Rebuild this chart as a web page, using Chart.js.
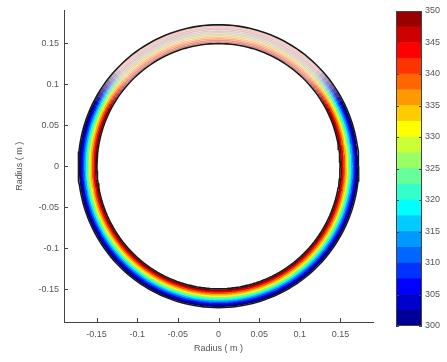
<!DOCTYPE html>
<html>
<head>
<meta charset="utf-8">
<script src="https://cdn.jsdelivr.net/npm/chart.js@4/dist/chart.umd.min.js"></script>
<style>
  body { margin: 0; background: #fff; }
  #wrap { position: relative; width: 447px; height: 362px; }
  #main { position: absolute; left: 0; top: 0; }
  #cbar { position: absolute; left: 380px; top: 0; }
</style>
</head>
<body>
<div id="wrap">
  <canvas id="main" width="447" height="362"></canvas>
  <canvas id="cbar" width="67" height="362"></canvas>
</div>
<script>
// axis ticks
var xTicks = [-0.15, -0.1, -0.05, 0, 0.05, 0.1, 0.15];
var yTicks = [-0.15, -0.1, -0.05, 0, 0.05, 0.1, 0.15];

// contour levels (K) and the radius (m) each one sits at
var contourLevels = [300, 305, 310, 315, 320, 325, 330, 335, 340, 345, 350];
var contourRadii = [0.1705, 0.1686, 0.1667, 0.1648, 0.1629, 0.1610, 0.1591, 0.1572, 0.1553, 0.1534, 0.1515];

// outer and inner wall of the ring
var wallRadii = [0.1725, 0.1495];

// colorbar
var cbarTicks = [300, 305, 310, 315, 320, 325, 330, 335, 340, 345, 350];
var cbarBandsLow = [300, 302.5, 305, 307.5, 310, 312.5, 315, 317.5, 320, 322.5,
                    325, 327.5, 330, 332.5, 335, 337.5, 340, 342.5, 345, 347.5];
var cbarMin = 300, cbarMax = 350;

var FONT = { family: "'Liberation Sans', Arial, sans-serif", size: 9 };
var TXT = '#555';
var PALE = [250, 208, 192];

function jet(t) {
    var c = function (x) { return Math.round(255 * Math.max(0, Math.min(1, 1.5 - Math.abs(x)))); };
    return [c(4 * t - 3), c(4 * t - 2), c(4 * t - 1)];
}
function rgb(a) { return 'rgb(' + a[0] + ',' + a[1] + ',' + a[2] + ')'; }

// circle through the x/y scales
function circle(r) {
    var pts = [];
    var n = 180;
    for (var k = 0; k <= n; k++) {
        var th = 2 * Math.PI * k / n;
        pts.push({ x: r * Math.cos(th), y: r * Math.sin(th) });
    }
    return pts;
}

// the top of the ring looks washed out in the original
function fade(r, segCtx) {
    var h = (segCtx.p0.parsed.y + segCtx.p1.parsed.y) / 2 / r;
    return h > 0.45 ? Math.min(1, (h - 0.45) / 0.25) : 0;
}

var datasets = [];
wallRadii.forEach(function (r) {
    datasets.push({
        data: circle(r),
        borderColor: '#1a1a1a',
        borderWidth: 1.6,
        showLine: true,
        pointRadius: 0
    });
});
contourLevels.forEach(function (lv, i) {
    var t = (lv - cbarMin) / (cbarMax - cbarMin);
    var c = jet(t);
    var r = contourRadii[i];
    datasets.push({
        data: circle(r),
        borderColor: rgb(c),
        borderWidth: 2.3,
        showLine: true,
        pointRadius: 0,
        segment: {
            borderColor: function (ctx) {
                var f = fade(r, ctx) * (0.97 - 0.3 * t);
                return rgb(c.map(function (v, k) { return Math.round(v + (PALE[k] - v) * f); }));
            },
            borderWidth: function (ctx) { return 2.3 - 0.8 * fade(r, ctx); }
        }
    });
});

var innerTicks = {
    id: 'innerTicks',
    afterDraw: function (chart) {
        var ctx = chart.ctx, a = chart.chartArea;
        ctx.save();
        ctx.strokeStyle = '#444';
        ctx.lineWidth = 1;
        ctx.beginPath();
        if (chart.canvas.id === 'main') {
            chart.scales.x.ticks.forEach(function (t) {
                var p = Math.round(chart.scales.x.getPixelForValue(t.value)) + 0.5;
                ctx.moveTo(p, a.bottom); ctx.lineTo(p, a.bottom - 4);
            });
            chart.scales.y.ticks.forEach(function (t) {
                var p = Math.round(chart.scales.y.getPixelForValue(t.value)) + 0.5;
                ctx.moveTo(a.left, p); ctx.lineTo(a.left + 4, p);
            });
        } else {
            chart.scales.y.ticks.forEach(function (t) {
                var p = Math.round(chart.scales.y.getPixelForValue(t.value)) + 0.5;
                ctx.moveTo(a.left, p); ctx.lineTo(a.left + 3, p);
                ctx.moveTo(a.right, p); ctx.lineTo(a.right - 3, p);
            });
            ctx.rect(Math.round(a.left) + 0.5, Math.round(a.top) + 0.5,
                     Math.round(a.right - a.left) - 1, Math.round(a.bottom - a.top) - 1);
        }
        ctx.stroke();
        ctx.restore();
    }
};

new Chart(document.getElementById('main'), {
    type: 'scatter',
    data: { datasets: datasets },
    options: {
        responsive: false,
        animation: false,
        layout: { padding: { top: 10, right: 74, left: 0, bottom: 0 } },
        plugins: { legend: { display: false }, tooltip: { enabled: false } },
        scales: {
            x: {
                min: -0.19, max: 0.19,
                afterBuildTicks: function (s) { s.ticks = xTicks.map(function (v) { return { value: v }; }); },
                afterFit: function (s) { s.height = 40; },
                grid: { display: false, drawTicks: false },
                border: { display: true, color: '#444' },
                ticks: { font: FONT, color: TXT, padding: 7, maxRotation: 0,
                         callback: function (v) { return String(Math.round(v * 100) / 100); } },
                title: { display: true, text: 'Radius ( m )', font: FONT, color: TXT,
                         padding: { top: 0, bottom: 8 } }
            },
            y: {
                min: -0.19, max: 0.19,
                afterBuildTicks: function (s) { s.ticks = yTicks.map(function (v) { return { value: v }; }); },
                afterFit: function (s) { s.width = 64; },
                grid: { display: false, drawTicks: false },
                border: { display: true, color: '#444' },
                ticks: { font: FONT, color: TXT, padding: 5,
                         callback: function (v) { return String(Math.round(v * 100) / 100); } },
                title: { display: true, text: 'Radius ( m )', font: FONT, color: TXT,
                         padding: { top: 14, bottom: 0 } }
            }
        }
    },
    plugins: [innerTicks]
});

var cbarSets = cbarBandsLow.map(function (lo, i) {
    var hi = i + 1 < cbarBandsLow.length ? cbarBandsLow[i + 1] : cbarMax;
    return {
        data: [[lo, hi]],
        backgroundColor: rgb(jet(((lo + hi) / 2 - cbarMin) / (cbarMax - cbarMin))),
        borderWidth: 0,
        barPercentage: 1,
        categoryPercentage: 1
    };
});

new Chart(document.getElementById('cbar'), {
    type: 'bar',
    data: { labels: [''], datasets: cbarSets },
    options: {
        responsive: false,
        animation: false,
        layout: { padding: { top: 11, left: 16, right: 0, bottom: 36 } },
        plugins: { legend: { display: false }, tooltip: { enabled: false } },
        scales: {
            x: { display: false, stacked: true },
            y: {
                position: 'right',
                min: cbarMin, max: cbarMax,
                afterBuildTicks: function (s) { s.ticks = cbarTicks.map(function (v) { return { value: v }; }); },
                afterFit: function (s) { s.width = 25; },
                grid: { display: false, drawTicks: false },
                border: { display: false },
                ticks: { font: FONT, color: TXT, padding: 3 }
            }
        }
    },
    plugins: [innerTicks]
});
</script>
</body>
</html>
